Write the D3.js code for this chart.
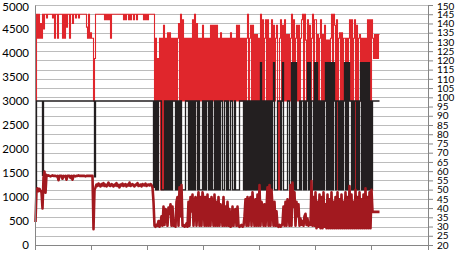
<!DOCTYPE html>
<html>
<head>
<meta charset="utf-8">
<script src="https://cdn.jsdelivr.net/npm/d3@7"></script>
<style>
  body { margin: 0; background: #fff; }
  svg text { font-family: Lato, "Open Sans", sans-serif; fill: #000; }
</style>
</head>
<body>
<div id="chart"></div>
<script>
// one sample per plotted column, first part (flat stretch) then the noisy stretch

// red series, read on the right axis
var redA = [
  98,145,132,145,132,140,132,145,137,145,
  145,143,145,145,145,145,145,143,145,132,
  145,145,132,145,145,145,145,132,145,132,
  145,138,145,145,132,145,145,140,145,145,
  143,145,145,143,145,145,145,145,145,145,
  145,138,132,145,132,135,132,132,98,121,
  145,145,145,145,145,145,145,145,145,142,
  145,142,145,142,145,132,145,145,145,145,
  145,145,145,145,145,145,145,145,142,145,
  142,145,145,142,145,142,145,145,142,145,
  145,142,145,145,145,145,145,145,142,145,
  142,145,142,145,145,145,145,145,145
];
var redB = [
  98,132,50,121,98,132,50,132,50,139,
  98,132,98,135,98,135,98,132,98,132,
  98,132,98,132,140,98,145,98,142,98,
  132,98,132,98,132,98,132,98,142,98,
  145,98,140,50,132,98,132,98,139,98,
  132,98,132,98,132,98,139,98,139,98,
  139,98,139,98,132,98,135,98,132,98,
  132,98,132,98,132,98,135,98,132,98,
  132,98,139,98,139,98,132,98,132,98,
  132,50,132,145,98,132,139,98,139,98,
  134,98,134,98,132,98,145,98,142,98,
  132,142,98,142,98,132,98,142,98,139,
  98,132,139,98,50,132,142,98,139,98,
  142,98,134,98,134,98,132,145,98,142,
  98,132,139,98,139,98,132,142,145,98,
  145,131,98,142,98,139,98,132,145,98,
  142,142,98,134,98,132,142,98,134,98,
  139,98,131,98,131,98,132,145,98,145,
  139,98,142,50,132,135,98,135,98,132,
  132,98,132,98,132,142,98,142,98,132,
  142,50,139,98,132,134,98,132,98,132,
  98,132,98,142,98,142,98,142,132,121,
  134,121,134,121,134,134
];

// black series, left axis
var blackA = [
  1150,3000,3000,3000,3000,3000,3000,1450,3000,3000,
  3000,3000,3000,3000,3000,3000,3000,3000,3000,3000,
  3000,3000,3000,3000,3000,3000,3000,3000,3000,3000,
  3000,3000,3000,3000,3000,3000,3000,3000,3000,3000,
  3000,3000,3000,3000,3000,3000,3000,3000,3000,3000,
  3000,3000,3000,3000,3000,3000,3000,3000,3000,1420,
  3000,3000,3000,3000,3000,3000,3000,3000,3000,3000,
  3000,3000,3000,3000,3000,3000,3000,3000,3000,3000,
  3000,3000,3000,3000,3000,3000,3000,3000,3000,3000,
  3000,3000,3000,3000,3000,3000,3000,3000,3000,3000,
  3000,3000,3000,3000,3000,3000,3000,3000,3000,3000,
  3000,3000,3000,3000,3000,3000,3000,3000,1200
];
var blackB = [
  3000,1150,3000,1150,3000,3000,3000,1150,1150,1150,
  3000,1150,3000,1150,3000,1150,3000,1150,3000,3000,
  3000,1150,3000,1150,3000,1150,3000,1150,1150,1150,
  1150,3000,3000,3000,1150,3000,1150,3000,1150,3000,
  1150,3000,3000,1150,3000,1150,1150,1150,3000,1150,
  3000,1150,3000,3000,1150,3000,1150,3000,1150,1150,
  3000,1150,3000,1150,3000,1150,3000,3000,1150,1150,
  3000,3000,1150,3000,1150,1150,3000,3000,1150,1150,
  3000,1150,1150,1150,1150,3000,3000,3000,3000,1150,
  3000,1150,3000,1150,3000,1150,3000,1150,3000,1150,
  3000,1150,3000,1150,3000,1150,3800,1150,3000,1150,
  3000,1150,3000,1150,3000,1150,3000,1150,3000,3800,
  1150,1150,1150,3000,3000,3000,1150,3000,3800,1150,
  1150,1150,1150,3000,3000,1150,1150,3800,1150,3800,
  1150,3800,1150,1150,1150,3000,1150,3000,3000,1150,
  3000,1150,3000,3800,1150,3800,1150,3000,3000,1150,
  3800,1150,3800,1150,3000,1150,3000,1150,3000,1150,
  3000,3800,1150,3800,1150,3800,1150,3800,1150,3800,
  3000,1150,3000,3000,1150,3000,1150,3000,1150,3000,
  3800,1150,3800,1150,3800,3000,3000,1150,3000,1150,
  3000,3000,1150,3000,1150,3000,3800,1150,3800,1150,
  3800,1150,3800,1150,3800,1150,3000,1150,3000,3000,
  3000,3000,3000,3000,3000,3000
];

// dark red series, left axis
var darkA = [
  480,1150,1180,1120,1170,1130,1100,760,1400,1530,
  1090,1460,1440,1450,1440,1430,1440,1450,1440,1440,
  1440,1430,1440,1350,1440,1440,1440,1380,1440,1430,
  1440,1360,1440,1440,1440,1400,1440,1360,1440,1440,
  1430,1440,1440,1450,1440,1440,1440,1440,1440,1440,
  1430,1440,1440,1440,1440,1440,1440,1440,330,1150,
  1200,1260,1230,1280,1250,1220,1270,1240,1290,1230,
  1260,1220,1250,1300,1240,1230,1270,1250,1220,1260,
  1240,1290,1230,1250,1200,1260,1240,1280,1230,1250,
  1270,1220,1260,1240,1300,1230,1250,1270,1240,1220,
  1260,1250,1290,1230,1240,1260,1220,1270,1250,1240,
  1280,1230,1250,1260,1240,1270,1250,1200,900
];
var darkB = [
  400,380,420,400,500,380,450,600,400,800,
  420,750,700,400,780,650,850,400,800,400,
  420,380,900,1000,400,1200,600,1250,400,420,
  380,400,450,380,900,400,1000,700,1050,400,
  900,1000,400,800,1100,400,1000,400,1100,950,
  400,1000,400,1050,400,950,400,1000,850,400,
  1050,400,900,400,1000,400,850,700,400,1000,
  400,800,400,900,400,750,380,400,800,400,
  720,750,400,800,400,380,400,420,380,400,
  600,950,400,1000,400,900,1000,400,1100,700,
  400,950,400,1050,400,1250,400,900,800,400,
  850,400,750,1200,400,1250,400,1150,800,400,
  900,400,700,400,380,420,380,400,450,800,
  400,900,400,950,700,400,1250,400,1300,800,
  1100,400,900,600,850,400,550,420,500,400,
  600,650,420,550,400,450,420,1330,400,1000,
  400,1100,350,900,380,1050,350,1000,350,1100,
  380,850,350,1050,350,950,350,1100,350,900,
  350,1000,350,1100,350,950,350,1050,350,900,
  350,1100,350,1000,350,1230,350,1050,350,900,
  350,1150,350,1000,350,1100,350,950,350,1050,
  350,1180,350,1000,350,1100,350,1150,690,690,
  690,690,690,690,690,690
];

var leftTicks = [0, 500, 1000, 1500, 2000, 2500, 3000, 3500, 4000, 4500, 5000];
var rightTicks = [20, 25, 30, 35, 40, 45, 50, 55, 60, 65, 70, 75, 80, 85, 90, 95,
                  100, 105, 110, 115, 120, 125, 130, 135, 140, 145, 150];
var xTicks = [0, 56, 112, 168, 224, 280, 336, 393];

var red = redA.concat(redB);
var black = blackA.concat(blackB);
var darkRed = darkA.concat(darkB);

// set the dimensions of the canvas
var margin = {top: 5, right: 28, bottom: 11, left: 35};
var width = 456 - margin.left - margin.right;
var height = 256 - margin.top - margin.bottom;

var svg = d3.select('#chart').append('svg')
    .attr('width', 456)
    .attr('height', 256)
  .append('g')
    .attr('transform', 'translate(' + margin.left + ',' + margin.top + ')');

// set the ranges
var x = d3.scaleLinear().domain([0, 393]).range([0, width]);
var yLeft = d3.scaleLinear().domain([0, 5000]).range([height, 0]);
var yRight = d3.scaleLinear().domain([20, 150]).range([height, 0]);

// gridlines follow the right axis ticks
svg.selectAll('line.grid')
    .data(rightTicks)
  .enter().append('line')
    .attr('class', 'grid')
    .attr('x1', 0)
    .attr('x2', width)
    .attr('y1', function(d) { return Math.round(yRight(d)) + 0.5; })
    .attr('y2', function(d) { return Math.round(yRight(d)) + 0.5; })
    .attr('stroke', '#bcbcbc')
    .attr('stroke-width', 1);

// red and black as steps, so every change is a straight vertical stroke
var stepLeft = d3.line()
    .curve(d3.curveStepAfter)
    .x(function(d, i) { return x(i) + 0.5; })
    .y(function(d) { return yLeft(d); });

var stepRight = d3.line()
    .curve(d3.curveStepAfter)
    .x(function(d, i) { return x(i) + 0.5; })
    .y(function(d) { return yRight(d); });

// the thick dark red one reads better as a plain zigzag
var lineLeft = d3.line()
    .x(function(d, i) { return x(i) + 0.5; })
    .y(function(d) { return yLeft(d); });

svg.append('path')
    .datum(red)
    .attr('d', stepRight)
    .attr('fill', 'none')
    .attr('stroke', '#e0262c')
    .attr('stroke-width', 1.1);

svg.append('path')
    .datum(black)
    .attr('d', stepLeft)
    .attr('fill', 'none')
    .attr('stroke', '#231f20')
    .attr('stroke-width', 1.3);

svg.append('path')
    .datum(darkRed)
    .attr('d', lineLeft)
    .attr('fill', 'none')
    .attr('stroke', '#a2191f')
    .attr('stroke-width', 2.6)
    .attr('stroke-linejoin', 'round');

// axes
var xAxis = d3.axisBottom(x)
    .tickValues(xTicks)
    .tickSize(5)
    .tickSizeOuter(0)
    .tickFormat('');

var yAxisLeft = d3.axisLeft(yLeft)
    .tickValues(leftTicks)
    .tickSize(0)
    .tickPadding(6)
    .tickFormat(d3.format('d'));

var yAxisRight = d3.axisRight(yRight)
    .tickValues(rightTicks)
    .tickSize(5)
    .tickSizeOuter(0)
    .tickPadding(4)
    .tickFormat(d3.format('d'));

var gx = svg.append('g')
    .attr('transform', 'translate(0,' + height + ')')
    .call(xAxis);

var gl = svg.append('g')
    .call(yAxisLeft);

var gr = svg.append('g')
    .attr('transform', 'translate(' + width + ',0)')
    .call(yAxisRight);

[gx, gl, gr].forEach(function(g) {
  g.select('.domain').attr('stroke', '#868686');
  g.selectAll('.tick line').attr('stroke', '#868686');
});

gl.selectAll('text')
    .attr('font-size', '11.5px')
    .attr('fill', '#000');

// the top labels sit right at the edge, nudge them in a little
gl.selectAll('.tick text')
    .filter(function(d) { return d === 5000; })
    .attr('dy', '0.45em');

gr.selectAll('text')
    .attr('font-size', '10px')
    .attr('fill', '#000');

gr.selectAll('.tick text')
    .filter(function(d) { return d === 150; })
    .attr('dy', '0.45em');
</script>
</body>
</html>
